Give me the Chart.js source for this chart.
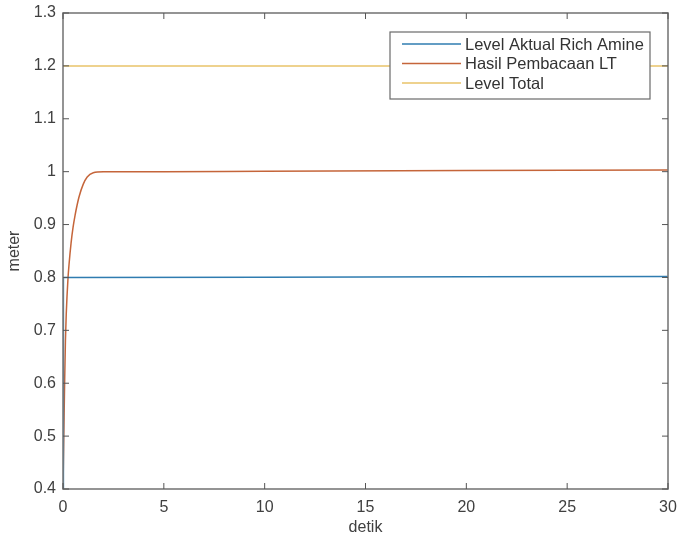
<!DOCTYPE html>
<html>
<head>
<meta charset="utf-8">
<script src="https://cdn.jsdelivr.net/npm/chart.js@4"></script>
<style>
  html, body { margin: 0; padding: 0; background: #fff; }
  #wrap { width: 680px; height: 544px; }
</style>
</head>
<body>
<div id="wrap"><canvas id="levelChart"></canvas></div>
<script>
// --- DATA ---
const seriesNames = ['Level Aktual Rich Amine', 'Hasil Pembacaan LT', 'Level Total'];

const timeAktual = [0, 0.02, 10, 20, 30];
const levelAktual = [0.4, 0.8, 0.8006, 0.8012, 0.802];

const timeLT = [0, 0.04, 0.08, 0.12, 0.16, 0.2, 0.25, 0.3, 0.4, 0.5, 0.6, 0.7, 0.8, 1.0, 1.2, 1.5, 2, 5, 10, 20, 30];
const levelLT = [0.4, 0.5, 0.6, 0.68, 0.73, 0.765, 0.8, 0.825, 0.865, 0.895, 0.918, 0.937, 0.953, 0.976, 0.99, 0.998, 1.0, 1.0, 1.001, 1.002, 1.003];

const timeTotal = [0, 10, 20, 30];
const levelTotal = [1.2, 1.2, 1.2, 1.2];

const xTicks = [0, 5, 10, 15, 20, 25, 30];
const yTicks = [0.4, 0.5, 0.6, 0.7, 0.8, 0.9, 1.0, 1.1, 1.2, 1.3];

const colors = ['#2f7cb0', '#c5653a', '#e8c369'];

function toPoints(xs, ys) {
  return xs.map((x, i) => ({ x: x, y: ys[i] }));
}

// --- BOX, INNER TICKS AND LEGEND (matlab style) ---
const matlabFrame = {
  id: 'matlabFrame',
  afterDraw(chart) {
    const { ctx, chartArea: a, scales } = chart;
    const tl = 6;
    ctx.save();
    ctx.strokeStyle = '#7a7a7a';
    ctx.lineWidth = 1.6;
    ctx.strokeRect(a.left, a.top, a.right - a.left, a.bottom - a.top);
    ctx.lineWidth = 1;
    ctx.strokeStyle = '#555';
    ctx.beginPath();
    xTicks.forEach(v => {
      const px = scales.x.getPixelForValue(v);
      ctx.moveTo(px, a.bottom); ctx.lineTo(px, a.bottom - tl);
      ctx.moveTo(px, a.top); ctx.lineTo(px, a.top + tl);
    });
    yTicks.forEach(v => {
      const py = scales.y.getPixelForValue(v);
      ctx.moveTo(a.left, py); ctx.lineTo(a.left + tl, py);
      ctx.moveTo(a.right, py); ctx.lineTo(a.right - tl, py);
    });
    ctx.stroke();

    // legend box
    const bx = a.right - 278, by = a.top + 19, bw = 260, bh = 67;
    ctx.fillStyle = '#fff';
    ctx.fillRect(bx, by, bw, bh);
    ctx.strokeStyle = '#6a6a6a';
    ctx.lineWidth = 1.2;
    ctx.strokeRect(bx, by, bw, bh);
    ctx.font = '16.5px "Liberation Sans", Arial, sans-serif';
    ctx.textBaseline = 'middle';
    chart.data.datasets.forEach((ds, i) => {
      const ry = by + 12 + i * 19.5;
      ctx.strokeStyle = ds.borderColor;
      ctx.lineWidth = 1.5;
      ctx.beginPath();
      ctx.moveTo(bx + 12, ry);
      ctx.lineTo(bx + 71, ry);
      ctx.stroke();
      ctx.fillStyle = '#333';
      ctx.fillText(ds.label, bx + 75, ry + 1);
    });
    ctx.restore();
  }
};

// --- CHART.JS SETUP ---
const ctx = document.getElementById('levelChart');
const tickFont = { family: '"Liberation Sans", Arial, sans-serif', size: 16 };
const titleFont = { family: '"Liberation Sans", Arial, sans-serif', size: 16 };

new Chart(ctx, {
  type: 'line',
  data: {
    datasets: [
      { label: seriesNames[0], data: toPoints(timeAktual, levelAktual) },
      { label: seriesNames[1], data: toPoints(timeLT, levelLT), cubicInterpolationMode: 'monotone' },
      { label: seriesNames[2], data: toPoints(timeTotal, levelTotal) }
    ].map((d, i) => Object.assign(d, {
      borderColor: colors[i],
      backgroundColor: colors[i],
      borderWidth: 1.5,
      pointRadius: 0,
      fill: false
    }))
  },
  options: {
    responsive: true,
    maintainAspectRatio: false,
    animation: false,
    layout: { padding: { top: 13, right: 12, left: 0, bottom: 0 } },
    plugins: {
      legend: { display: false },
      tooltip: { enabled: false }
    },
    scales: {
      x: {
        type: 'linear',
        min: 0, max: 30,
        afterBuildTicks: s => { s.ticks = xTicks.map(v => ({ value: v })); },
        afterFit: s => { s.height = 55; s.paddingLeft = 0; s.paddingRight = 0; },
        grid: { display: false, drawTicks: false },
        border: { display: false },
        ticks: { color: '#404040', font: tickFont, padding: 9, maxRotation: 0 },
        title: { display: true, text: 'detik', color: '#404040', font: titleFont, padding: { top: 0, bottom: 7 } }
      },
      y: {
        type: 'linear',
        min: 0.4, max: 1.3,
        afterBuildTicks: s => { s.ticks = yTicks.map(v => ({ value: v })); },
        afterFit: s => { s.width = 63; s.paddingTop = 0; s.paddingBottom = 0; },
        grid: { display: false, drawTicks: false },
        border: { display: false },
        ticks: {
          color: '#404040', font: tickFont, padding: 7,
          callback: v => String(Number(v.toFixed(1)))
        },
        title: { display: true, text: 'meter', color: '#404040', font: titleFont, padding: { top: 5, bottom: 0 } }
      }
    }
  },
  plugins: [matlabFrame]
});
</script>
</body>
</html>
